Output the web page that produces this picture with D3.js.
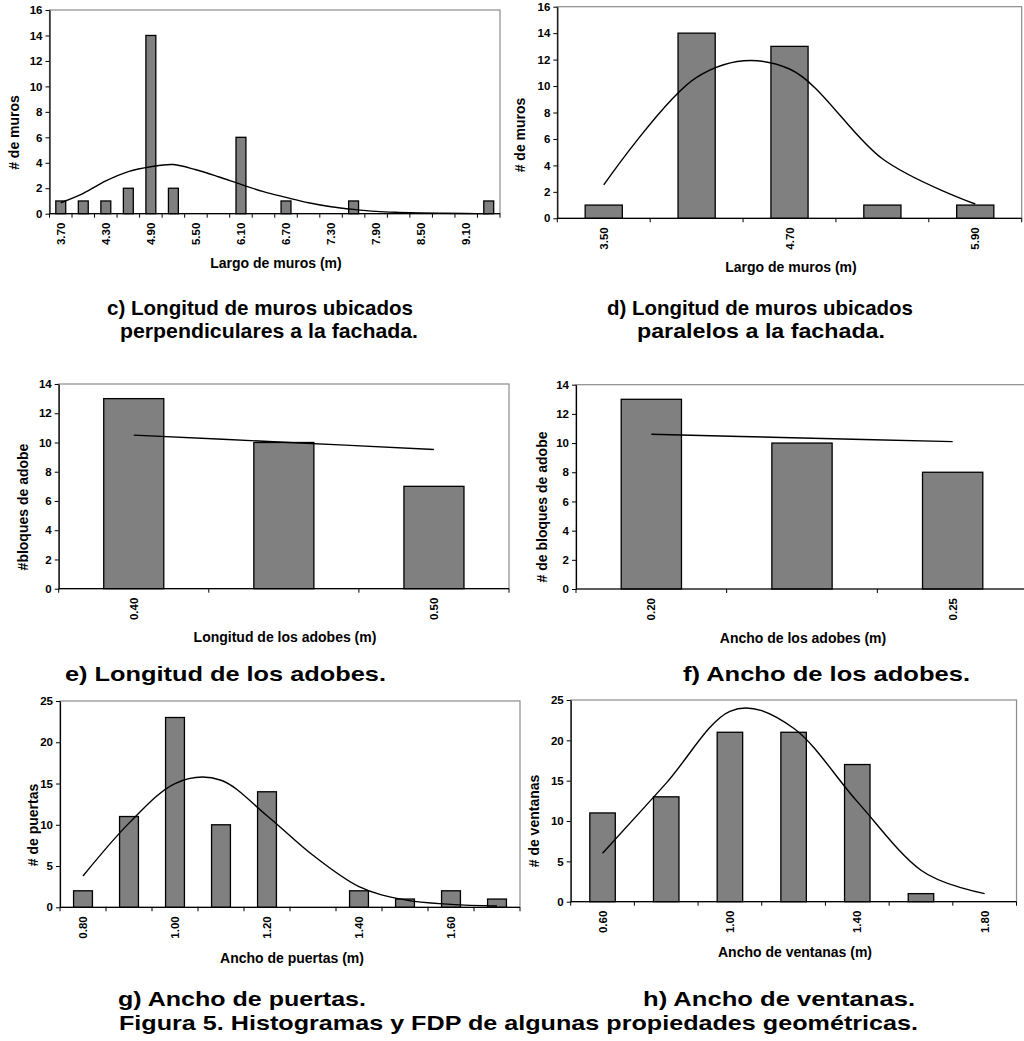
<!DOCTYPE html>
<html>
<head>
<meta charset="utf-8">
<script src="https://cdn.jsdelivr.net/npm/d3@7"></script>
<style>
  html, body { margin: 0; padding: 0; background: #fff; }
  svg { display: block; }
  text { font-family: Arial, "Liberation Sans", Helvetica, sans-serif; font-weight: bold; fill: #000; }
</style>
</head>
<body>
<script>
// c) Largo de muros perpendiculares a la fachada
const catsC = ["3.70","4.00","4.30","4.60","4.90","5.20","5.50","5.80","6.10","6.40","6.70","7.00","7.30","7.60","7.90","8.20","8.50","8.80","9.10","9.40"];
const countsC = [1,1,1,2,14,2,0,0,6,0,1,0,0,1,0,0,0,0,0,1];
const pdfC = [0.86,1.6,2.57,3.3,3.69,3.86,3.45,2.9,2.3,1.73,1.28,0.86,0.55,0.34,0.18,0.1,0.05,0.03,0.01,0.005];
const ticksC = ["3.70","4.30","4.90","5.50","6.10","6.70","7.30","7.90","8.50","9.10"];

// d) Largo de muros paralelos a la fachada
const catsD = ["3.50","4.10","4.70","5.30","5.90"];
const countsD = [1,14,13,1,1];
const pdfD = [2.52,10.66,11.29,4.5,1.08];
const ticksD = ["3.50","4.70","5.90"];

// e) Longitud de los adobes
const catsE = ["0.40","0.45","0.50"];
const countsE = [13,10,7];
const pdfE = [10.5,10.02,9.52];
const ticksE = ["0.40","0.50"];

// f) Ancho de los adobes
const catsF = ["0.20","0.225","0.25"];
const countsF = [13,10,8];
const pdfF = [10.6,10.35,10.1];
const ticksF = ["0.20","0.25"];

// g) Ancho de puertas
const catsG = ["0.80","0.90","1.00","1.10","1.20","1.30","1.40","1.50","1.60","1.70"];
const countsG = [2,11,23,10,14,0,2,1,2,1];
const pdfG = [3.8,10.2,15.0,15.4,11.1,6.3,2.5,0.9,0.36,0.16];
const ticksG = ["0.80","1.00","1.20","1.40","1.60"];

// h) Ancho de ventanas
const catsH = ["0.60","0.80","1.00","1.20","1.40","1.60","1.80"];
const countsH = [11,13,21,21,17,1,0];
const pdfH = [6.0,14.7,23.6,21.5,12.4,3.9,1.0];
const ticksH = ["0.60","1.00","1.40","1.80"];

const svg = d3.select("body").append("svg")
  .attr("width", 1024).attr("height", 1041);

// plot boxes: [left, top, right, bottom]
const panels = [
  { cats: catsC, counts: countsC, pdf: pdfC, ticks: ticksC, yMax: 16, yStep: 2,
    xTitle: "Largo de muros (m)", yTitle: "# de muros",
    box: [49.5, 10, 500, 213.7], xt: [276, 263], yt: [14, 132.5], pad: 0.56 },
  { cats: catsD, counts: countsD, pdf: pdfD, ticks: ticksD, yMax: 16, yStep: 2,
    xTitle: "Largo de muros (m)", yTitle: "# de muros",
    box: [557.3, 6.7, 1021.7, 218.3], xt: [791, 267], yt: [520, 135], pad: 0.6 },
  { cats: catsE, counts: countsE, pdf: pdfE, ticks: ticksE, yMax: 14, yStep: 2,
    xTitle: "Longitud de los adobes (m)", yTitle: "#bloques de adobe",
    box: [58.7, 384, 509, 588.7], xt: [285, 637], yt: [23, 507], pad: 0.6 },
  { cats: catsF, counts: countsF, pdf: pdfF, ticks: ticksF, yMax: 14, yStep: 2,
    xTitle: "Ancho de los adobes (m)", yTitle: "# de bloques de adobe",
    box: [576, 384.7, 1028, 589], xt: [803, 638], yt: [542, 507], pad: 0.6 },
  { cats: catsG, counts: countsG, pdf: pdfG, ticks: ticksG, yMax: 25, yStep: 5,
    xTitle: "Ancho de puertas (m)", yTitle: "# de puertas",
    box: [60, 701, 520, 907.3], xt: [292, 958], yt: [33, 825], pad: 0.59 },
  { cats: catsH, counts: countsH, pdf: pdfH, ticks: ticksH, yMax: 25, yStep: 5,
    xTitle: "Ancho de ventanas (m)", yTitle: "# de ventanas",
    box: [570.7, 700, 1016.5, 901.7], xt: [795, 952], yt: [534, 821], pad: 0.6 }
];

function drawPanel(p) {
  const [x0, y0, x1, y1] = p.box;
  const g = svg.append("g");

  const x = d3.scaleBand().domain(p.cats).range([x0, x1])
    .paddingInner(p.pad).paddingOuter(p.pad / 2);
  const y = d3.scaleLinear().domain([0, p.yMax]).range([y1, y0]);
  const step = x.step();
  const bw = x.bandwidth();

  // plot-area frame
  g.append("rect")
    .attr("x", x0).attr("y", y0)
    .attr("width", x1 - x0).attr("height", y1 - y0)
    .attr("fill", "none").attr("stroke", "#8c8c8c").attr("stroke-width", 1.2);

  // bars
  g.selectAll("rect.bar").data(p.cats.map((c, i) => ({ c, v: p.counts[i] })).filter(d => d.v > 0))
    .join("rect").attr("class", "bar")
    .attr("x", d => x(d.c)).attr("width", bw)
    .attr("y", d => y(d.v)).attr("height", d => y(0) - y(d.v))
    .attr("fill", "#808080").attr("stroke", "#000").attr("stroke-width", 1.3);

  // fitted density curve
  const line = d3.line()
    .x((d, i) => x(p.cats[i]) + bw / 2)
    .y(d => y(d))
    .curve(d3.curveCardinal.tension(0));
  g.append("path").datum(p.pdf)
    .attr("d", line).attr("fill", "none")
    .attr("stroke", "#000").attr("stroke-width", 1.4);

  // y axis
  const ya = g.append("g").attr("transform", `translate(${x0},0)`)
    .call(d3.axisLeft(y).tickValues(d3.range(0, p.yMax + 0.001, p.yStep))
      .tickSize(4).tickSizeOuter(0).tickPadding(3).tickFormat(d3.format("d")));
  ya.select(".domain").attr("stroke", "#000").attr("stroke-width", 1.2);
  ya.selectAll(".tick line").attr("stroke", "#000").attr("stroke-width", 1);
  ya.selectAll(".tick text").attr("font-size", 11.5)
    .attr("font-family", 'Arial, "Liberation Sans", sans-serif').attr("font-weight", "bold");

  // x axis: baseline, category boundary ticks and rotated labels
  g.append("line").attr("x1", x0).attr("x2", x1).attr("y1", y1).attr("y2", y1)
    .attr("stroke", "#000").attr("stroke-width", 1.2);
  g.selectAll("line.xt").data(d3.range(p.cats.length + 1))
    .join("line").attr("class", "xt")
    .attr("x1", i => x0 + i * step).attr("x2", i => x0 + i * step)
    .attr("y1", y1).attr("y2", y1 + 4)
    .attr("stroke", "#000").attr("stroke-width", 1);
  g.selectAll("text.xl").data(p.ticks)
    .join("text").attr("class", "xl")
    .attr("transform", d => `translate(${x(d) + bw / 2},${y1 + 9}) rotate(-90)`)
    .attr("text-anchor", "end").attr("dy", "0.35em")
    .attr("font-size", 11.5).text(d => d);

  // axis titles
  g.append("text").attr("x", p.xt[0]).attr("y", p.xt[1]).attr("dy", "0.35em")
    .attr("text-anchor", "middle").attr("font-size", 14).text(p.xTitle);
  g.append("text")
    .attr("transform", `translate(${p.yt[0]},${p.yt[1]}) rotate(-90)`)
    .attr("dy", "0.35em").attr("text-anchor", "middle")
    .attr("font-size", 14).text(p.yTitle);
}

panels.forEach(drawPanel);

// figure captions: [text, x, baseline, width]
const captions = [
  ["c) Longitud de muros ubicados", 107, 315, 306],
  ["perpendiculares a la fachada.", 120, 338, 298],
  ["d) Longitud de muros ubicados", 607, 315, 306],
  ["paralelos a la fachada.", 637, 338, 248],
  ["e) Longitud de los adobes.", 65, 681, 321],
  ["f) Ancho de los adobes.", 683, 681, 287],
  ["g) Ancho de puertas.", 118, 1006, 248],
  ["h) Ancho de ventanas.", 643, 1006, 272],
  ["Figura 5. Histogramas y FDP de algunas propiedades geométricas.", 119, 1030, 799]
];
svg.selectAll("text.cap").data(captions).join("text").attr("class", "cap")
  .attr("x", d => d[1]).attr("y", d => d[2])
  .attr("font-size", 20.5)
  .attr("textLength", d => d[3]).attr("lengthAdjust", "spacingAndGlyphs")
  .text(d => d[0]);
</script>
</body>
</html>
